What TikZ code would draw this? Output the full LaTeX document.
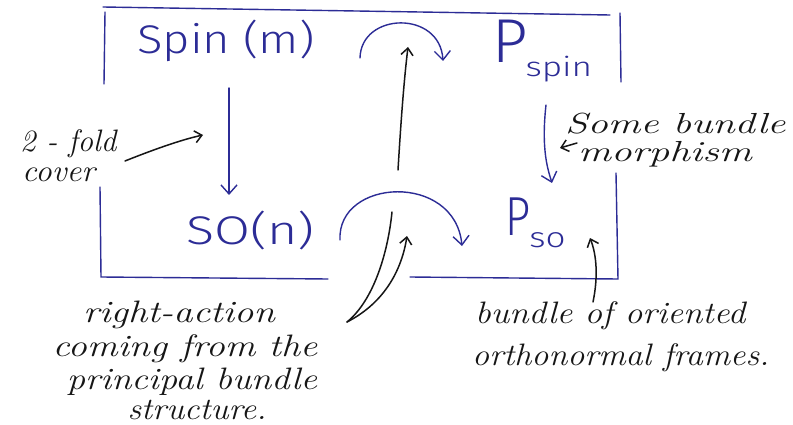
\documentclass[tikz,border=0pt]{standalone}
\usepackage{graphicx}
\usepackage{fontspec}
\setsansfont{Fira Sans Light}
\usetikzlibrary{arrows.meta}
\definecolor{ink}{RGB}{44,44,150}
\definecolor{pencil}{RGB}{22,22,22}
% horizontal stretch of a piece of text
\newcommand{\hstretch}[2]{\scalebox{#1}[1]{#2}}
\tikzset{
  frameline/.style={draw=ink, line width=1.4pt, line cap=round},
  bluearrow/.style={draw=ink, line width=1.4pt, line cap=round,
    -{Straight Barb[length=9pt,width=16pt,line width=1.4pt]}},
  blackarrow/.style={draw=pencil, line width=1.5pt, line cap=round,
    -{Straight Barb[length=7pt,width=12pt,line width=1.5pt]}},
  blackline/.style={draw=pencil, line width=1.5pt, line cap=round},
  grouplabel/.style={text=ink, inner sep=0pt, font=\sffamily\fontsize{40}{40}\selectfont},
  note/.style={text=pencil, inner sep=0pt, font=\itshape\fontsize{31}{33}\selectfont},
  smallnote/.style={note, font=\itshape\fontsize{29}{31}\selectfont}
}
\begin{document}
\begin{tikzpicture}[x=1pt, y=-1pt]
\useasboundingbox (0,0) rectangle (793,425);
\clip (0,0) rectangle (793,425);
\fill[white] (0,0) rectangle (793,425);

% frame around the diagram
\draw[frameline] (103,7) -- (610,15);
\draw[frameline] (105,12) -- (104,84);
\draw[frameline] (620,13) -- (621,82);
\draw[frameline] (100,187) -- (101,277) -- (328,279);
\draw[frameline] (410,277) -- (618,279) -- (616,173);

% groups and bundles
\node[grouplabel, anchor=base west] (spin) at (137,54) {\hstretch{1.18}{Spin (m)}};
\node[grouplabel, anchor=base west] (so) at (186,244) {\hstretch{1.3}{SO(n)}};
\node[grouplabel, anchor=base west] (pspin) at (492,63)
  {{\fontsize{62}{62}\selectfont P}\kern-2pt\raisebox{-14pt}{\fontsize{27}{27}\selectfont\hstretch{1.3}{spin}}};
\node[grouplabel, anchor=base west] (pso) at (505,235)
  {\hstretch{0.8}{\fontsize{55}{55}\selectfont P}\kern-1pt\raisebox{-13pt}{\fontsize{28}{28}\selectfont\hstretch{1.25}{so}}};

% vertical maps
\coordinate (c1) at (229,88);
\coordinate (c2) at (229,195);
\draw[bluearrow] (c1) -- (c2);
\coordinate (m1) at (546,105);
\coordinate (m2) at (552,183);
\draw[bluearrow] (m1) .. controls (541,150) and (548,170) .. (m2);

% right actions
\coordinate (t1) at (360,58);
\coordinate (t2) at (443,61);
\draw[bluearrow] (t1) .. controls (361,12) and (440,10) .. (t2);
\coordinate (b1) at (340,240);
\coordinate (b2) at (462,246);
\draw[bluearrow] (b1) .. controls (337,178) and (455,172) .. (b2);

% induced action arrow
\coordinate (u1) at (398,170);
\coordinate (u2) at (408,47);
\draw[blackarrow] (u1) .. controls (401,120) and (404,80) .. (u2);

% annotations
\node[note, anchor=base west] (cover1) at (20,152) {2 - fold};
\node[note, anchor=base west] (cover2) at (22,182) {\hstretch{1.06}{cover}};
\coordinate (cv1) at (125,161);
\coordinate (cv2) at (203,135);
\draw[blackarrow] (cv1) .. controls (150,151) and (180,140) .. (cv2);

\node[smallnote, anchor=base west] (morph1) at (565,134) {\hstretch{1.4}{Some bundle}};
\node[smallnote, anchor=base west] (morph2) at (578,162) {\hstretch{1.42}{morphism}};
\coordinate (mp1) at (577,143);
\coordinate (mp2) at (560,148);
\draw[blackarrow] (mp1) -- (mp2);

\node[note, anchor=base] (action1) at (179,322) {\hstretch{1.245}{right-action}};
\node[note, anchor=base] (action2) at (185,356) {\hstretch{1.23}{coming from the}};
\node[note, anchor=base] (action3) at (192,389) {\hstretch{1.18}{principal bundle}};
\node[note, anchor=base] (action4) at (197,419) {\hstretch{1.1}{structure.}};
\coordinate (ra) at (347,322);
\coordinate (ra1) at (392,212);
\coordinate (ra2) at (407,236);
\draw[blackline] (ra) .. controls (374,300) and (388,252) .. (ra1);
\draw[blackarrow] (ra) .. controls (386,302) and (402,268) .. (ra2);

\node[note, anchor=base west] (frames1) at (475,323) {\hstretch{1.13}{bundle of oriented}};
\node[note, anchor=base west] (frames2) at (472,365) {\hstretch{1.1}{orthonormal frames.}};
\coordinate (fr1) at (593,302);
\coordinate (fr2) at (590,238);
\draw[blackarrow] (fr1) .. controls (598,278) and (597,256) .. (fr2);
\end{tikzpicture}
\end{document}
